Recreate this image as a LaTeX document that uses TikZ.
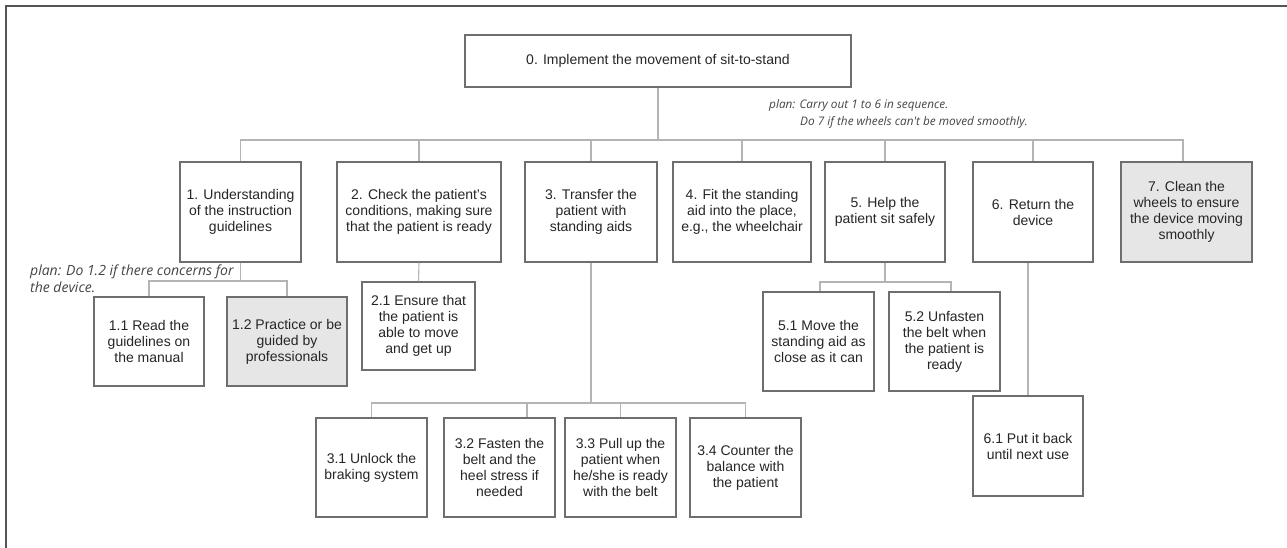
\documentclass[tikz,border=0pt]{standalone}
\usepackage{fontspec}
\setmainfont{Liberation Sans}
\newfontfamily\planfont{Open Sans}
\definecolor{boxline}{HTML}{6E6E6E}
\definecolor{conn}{HTML}{B4B4B4}
\definecolor{shade}{HTML}{E6E6E6}
\definecolor{frame}{HTML}{555555}
\definecolor{plantext}{HTML}{444444}
\tikzset{
  taskbox/.style={draw=boxline, line width=1.3pt, fill=white, align=center, inner sep=2pt,
    font=\fontsize{14}{16}\selectfont, text=black!85},
  optbox/.style={taskbox, fill=shade},
  link/.style={draw=conn, line width=1.1pt},
  plannote/.style={font=\planfont\itshape\fontsize{11.8}{17}\selectfont, text=plantext, align=left, inner sep=0pt},
  plannotebig/.style={plannote, font=\planfont\itshape\fontsize{14}{17}\selectfont}
}
\begin{document}
\begin{tikzpicture}[x=1pt,y=-1pt]
\useasboundingbox (0,0) rectangle (1287,548);
\draw[frame, line width=2pt] (5.5,548) -- (5.5,6.5) -- (1287,6.5);

% root
\node[taskbox, minimum width=386pt, minimum height=52pt] (root) at (658,61) {0. Implement the movement of sit-to-stand};

% level 1
\node[taskbox, minimum width=121pt, minimum height=100pt] (b1) at (240.5,212) {1. Understanding\\of the instruction\\guidelines};
\node[taskbox, minimum width=164pt, minimum height=100pt] (b2) at (419,212) {2. Check the patient's\\conditions, making sure\\that the patient is ready};
\node[taskbox, minimum width=132pt, minimum height=100pt] (b3) at (591,212) {3. Transfer the\\patient with\\standing aids};
\node[taskbox, minimum width=138pt, minimum height=100pt] (b4) at (742,212) {4. Fit the standing\\aid into the place,\\e.g., the wheelchair};
\node[taskbox, minimum width=120pt, minimum height=100pt] (b5) at (885,212) {5. Help the\\patient sit safely};
\node[taskbox, minimum width=120pt, minimum height=100pt] (b6) at (1033,212) {6. Return the\\device};
\node[optbox, minimum width=131pt, minimum height=100pt] (b7) at (1186.5,212) {7. Clean the\\wheels to ensure\\the device moving\\smoothly};

% level 2
\node[taskbox, minimum width=110pt, minimum height=89pt] (b11) at (149,341.5) {1.1 Read the\\guidelines on\\the manual};
\node[optbox, minimum width=120pt, minimum height=89pt] (b12) at (287,341.5) {1.2 Practice or be\\guided by\\professionals};
\node[taskbox, minimum width=113pt, minimum height=88pt] (b21) at (418.5,326) {2.1 Ensure that\\the patient is\\able to move\\and get up};
\node[taskbox, minimum width=111pt, minimum height=99pt] (b31) at (371.5,467.5) {3.1 Unlock the\\braking system};
\node[taskbox, minimum width=111pt, minimum height=99pt] (b32) at (499.5,467.5) {3.2 Fasten the\\belt and the\\heel stress if\\needed};
\node[taskbox, minimum width=111pt, minimum height=99pt] (b33) at (620.5,467.5) {3.3 Pull up the\\patient when\\he/she is ready\\with the belt};
\node[taskbox, minimum width=111pt, minimum height=99pt] (b34) at (745.5,467.5) {3.4 Counter the\\balance with\\the patient};
\node[taskbox, minimum width=111pt, minimum height=99pt] (b51) at (818.5,341.5) {5.1 Move the\\standing aid as\\close as it can};
\node[taskbox, minimum width=111pt, minimum height=99pt] (b52) at (944.5,341.5) {5.2 Unfasten\\the belt when\\the patient is\\ready};
\node[taskbox, minimum width=110pt, minimum height=100pt] (b61) at (1028,446) {6.1 Put it back\\until next use};

% bus levels
\coordinate (bus0) at (0,140);
\coordinate (bus1) at (0,281);
\coordinate (bus3) at (0,403);
\coordinate (bus5) at (0,282);

% connectors level 1
\foreach \c in {b1,b2,b3,b4,b5,b6}{
  \draw[link] (root.south) |- (\c.north |- bus0) -- (\c.north);
}
\draw[link] (root.south) |- ([xshift=-3.5pt]b7.north |- bus0) -- ([xshift=-3.5pt]b7.north);

% connectors level 2
\foreach \c in {b11,b12}{
  \draw[link] (b1.south) |- (\c.north |- bus1) -- (\c.north);
}
\draw[link] (b2.south) -- (b21.north);
\foreach \c in {b31,b33,b34}{
  \draw[link] (b3.south) |- (\c.north |- bus3) -- (\c.north);
}
\draw[link] (b3.south) |- ([xshift=27.5pt]b32.north |- bus3) -- ([xshift=27.5pt]b32.north);
\draw[link] (b5.south) |- ([xshift=1.5pt]b51.north |- bus5) -- ([xshift=1.5pt]b51.north);
\draw[link] (b5.south) |- ([xshift=6.5pt]b52.north |- bus5) -- ([xshift=6.5pt]b52.north);
\draw[link] (b61.north) -- (b61.north |- b6.south);

% plan notes
\node[plannote, anchor=west] (plan0) at (769,113.5) {plan: Carry out 1 to 6 in sequence.\\\hspace*{31pt}Do 7 if the wheels can't be moved smoothly.};
\node[plannotebig, anchor=west] (plan1) at (30,278.5) {plan: Do 1.2 if there concerns for\\the device.};
\end{tikzpicture}
\end{document}
